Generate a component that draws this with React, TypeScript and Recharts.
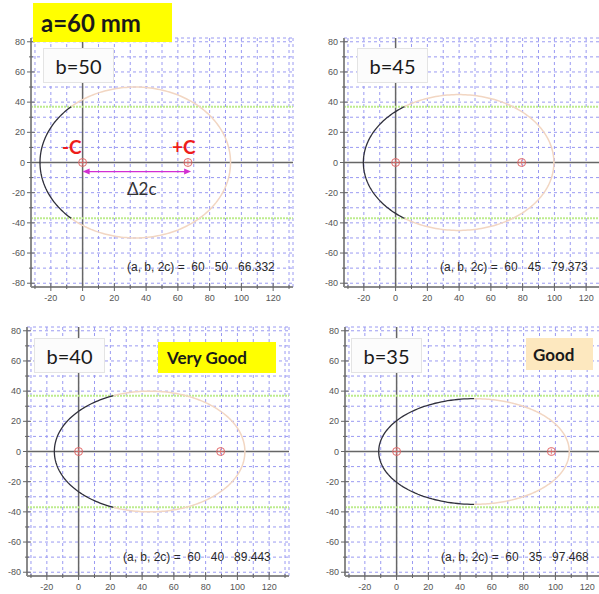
import React from 'react';
import { ComposedChart, Scatter, XAxis, YAxis, CartesianGrid, ReferenceLine } from 'recharts';

// ellipse parameters shown in the chart
const A = 60;
const B_VALUES = [50, 45, 40, 35];
const TWO_C = [66.332, 79.373, 89.443, 97.468];
const B_LABELS = ['b=50', 'b=45', 'b=40', 'b=35'];
const RATINGS = ['', '', 'Very Good', 'Good'];
const LIMIT_Y = 37;
const ARROW_Y = -6;

const X_TICKS = [-30, -20, -10, 0, 10, 20, 30, 40, 50, 60, 70, 80, 90, 100, 110, 120, 130];
const Y_TICKS = [-80, -70, -60, -50, -40, -30, -20, -10, 0, 10, 20, 30, 40, 50, 60, 70, 80];

// plot-area corners for the four panels
const PANEL_POS = [
  { left: 31, top: 38 },
  { left: 344, top: 38 },
  { left: 27, top: 327 },
  { left: 345, top: 327 },
];
const NOTE_POS = [
  { left: 127, top: 260 },
  { left: 440, top: 260 },
  { left: 123, top: 550 },
  { left: 441, top: 550 },
];
const BLABEL_POS = [
  { left: 43, top: 48 },
  { left: 357, top: 48 },
  { left: 34, top: 338 },
  { left: 351, top: 338 },
];

const PLOT_W = 262;
const PLOT_H = 249;
const Y_W = 26;
const M_TOP = 5;

const GRAY = '#8a8a8a';
const TICK_FONT = '"Liberation Sans", Arial, sans-serif';

// the curve is x = c + a*cos(t), y = b*sin(t); dark part = left side inside |y| <= 37
function ellipseParts(b: number, twoC: number) {
  const c = twoC / 2;
  const t0 = Math.asin(Math.min(1, LIMIT_Y / b));
  const dark: { x: number; y: number }[] = [];
  const light: { x: number; y: number }[] = [];
  const n = 90;
  for (let i = 0; i <= n; i++) {
    const t = Math.PI - t0 + (2 * t0 * i) / n;
    dark.push({ x: c + A * Math.cos(t), y: b * Math.sin(t) });
  }
  const span = Math.PI - t0;
  for (let i = 0; i <= 2 * n; i++) {
    const t = -span + (2 * span * i) / (2 * n);
    light.push({ x: c + A * Math.cos(t), y: b * Math.sin(t) });
  }
  return { dark, light };
}

const BottomTick = (p: any) => {
  const { x, y, payload } = p;
  const v = payload.value;
  const major = v % 20 === 0;
  return (
    <g>
      <line x1={x} x2={x} y1={y - (major ? 4 : 2)} y2={y + (major ? 4 : 2)} stroke="#666" />
      {major && (
        <text x={x} y={y + 14} textAnchor="middle" fontSize={9} fill="#555" fontFamily={TICK_FONT}>
          {v}
        </text>
      )}
    </g>
  );
};

const TopTick = (p: any) => {
  const { x, y, payload } = p;
  const major = payload.value % 20 === 0;
  return <line x1={x} x2={x} y1={y - (major ? 3 : 1)} y2={y + (major ? 5 : 3)} stroke="#666" />;
};

const LeftTick = (p: any) => {
  const { x, y, payload } = p;
  const v = payload.value;
  const major = v % 20 === 0;
  return (
    <g>
      <line x1={x - (major ? 4 : 2)} x2={x + (major ? 4 : 2)} y1={y} y2={y} stroke="#666" />
      {major && (
        <text x={x - 6} y={y + 3} textAnchor="end" fontSize={9} fill="#555" fontFamily={TICK_FONT}>
          {v}
        </text>
      )}
    </g>
  );
};

const RightTick = (p: any) => {
  const { x, y, payload } = p;
  const major = payload.value % 20 === 0;
  return <line x1={x - (major ? 5 : 3)} x2={x + (major ? 3 : 1)} y1={y} y2={y} stroke="#666" />;
};

const FocusMark = (p: any) => {
  const { cx, cy } = p;
  const col = '#e46a6a';
  return (
    <g>
      <circle cx={cx} cy={cy} r={4} fill="none" stroke={col} strokeWidth={1} />
      <line x1={cx - 3} x2={cx + 3} y1={cy} y2={cy} stroke={col} strokeWidth={0.8} />
      <line x1={cx} x2={cx} y1={cy - 3} y2={cy + 3} stroke={col} strokeWidth={0.8} />
    </g>
  );
};

const ArrowShape = (p: any) => {
  const { x1, y1, x2, y2 } = p;
  const col = '#d22ed2';
  return (
    <g>
      <line x1={x1 + 4} y1={y1} x2={x2 - 4} y2={y2} stroke={col} strokeWidth={1.2} />
      <polygon points={`${x1},${y1} ${x1 + 7},${y1 - 3} ${x1 + 7},${y1 + 3}`} fill={col} />
      <polygon points={`${x2},${y2} ${x2 - 7},${y2 - 3} ${x2 - 7},${y2 + 3}`} fill={col} />
    </g>
  );
};

const NoDot = () => <g />;

const Panel = ({ idx }: { idx: number }) => {
  const b = B_VALUES[idx];
  const twoC = TWO_C[idx];
  const { dark, light } = ellipseParts(b, twoC);
  const foci = [
    { x: 0, y: 0 },
    { x: twoC, y: 0 },
  ];
  const pos = PANEL_POS[idx];
  const frame = { stroke: GRAY, strokeWidth: 2 };

  return (
    <div style={{ position: 'absolute', left: pos.left - Y_W, top: pos.top - M_TOP }}>
      <ComposedChart width={Y_W + PLOT_W + 5} height={M_TOP + PLOT_H + 20} margin={{ top: M_TOP, right: 5, bottom: 0, left: 0 }}>
        <CartesianGrid stroke="#9a9af2" strokeDasharray="3 3" />
        <XAxis dataKey="x" type="number" domain={[-32.5, 132.5]} ticks={X_TICKS} interval={0} allowDataOverflow
          tickSize={0} tickMargin={0} tickLine={false} tick={<BottomTick />} axisLine={frame} height={20} />
        <XAxis xAxisId="t" orientation="top" type="number" domain={[-32.5, 132.5]} ticks={X_TICKS} interval={0} allowDataOverflow
          tickSize={0} tickMargin={0} tickLine={false} tick={<TopTick />} axisLine={frame} height={0} />
        <YAxis dataKey="y" type="number" domain={[-82.5, 82.5]} ticks={Y_TICKS} interval={0} allowDataOverflow
          tickSize={0} tickMargin={0} tickLine={false} tick={<LeftTick />} axisLine={frame} width={Y_W} />
        <YAxis yAxisId="r" orientation="right" type="number" domain={[-82.5, 82.5]} ticks={Y_TICKS} interval={0} allowDataOverflow
          tickSize={0} tickMargin={0} tickLine={false} tick={<RightTick />} axisLine={frame} width={0} />
        <ReferenceLine x={0} stroke="#666" strokeWidth={1.5} />
        <ReferenceLine y={0} stroke="#666" strokeWidth={1.5} />
        <ReferenceLine y={LIMIT_Y} stroke="#bdec8e" strokeWidth={2} strokeDasharray="2 1" />
        <ReferenceLine y={-LIMIT_Y} stroke="#bdec8e" strokeWidth={2} strokeDasharray="2 1" />
        <Scatter data={light} fill="none" line={{ stroke: '#f2d6c2', strokeWidth: 1.5 }} shape={NoDot} isAnimationActive={false} />
        <Scatter data={dark} fill="none" line={{ stroke: '#30303c', strokeWidth: 1.3 }} shape={NoDot} isAnimationActive={false} />
        <Scatter data={foci} shape={FocusMark} isAnimationActive={false} />
        {idx === 0 && (
          <ReferenceLine segment={[{ x: 0, y: ARROW_Y }, { x: twoC + 2, y: ARROW_Y }]} shape={ArrowShape} />
        )}
      </ComposedChart>
    </div>
  );
};

const LabelBox = ({ left, top, width, height, bg, border, children, fontSize, bold, pad }: any) => (
  <div
    style={{
      position: 'absolute', left, top, width, height, boxSizing: 'border-box',
      background: bg, border: border || 'none', display: 'flex', alignItems: 'center',
      justifyContent: pad == null ? 'center' : 'flex-start', paddingLeft: pad || 0,
      fontFamily: 'Lato, "Open Sans", sans-serif', fontSize, fontWeight: bold ? 700 : 400, color: '#1a1a1a',
    }}
  >
    {children}
  </div>
);

export default function App() {
  return (
    <div style={{ position: 'fixed', left: 0, top: 0, width: 599, height: 594, overflow: 'hidden', background: '#fff' }}>
      {[0, 1, 2, 3].map((i) => <Panel key={i} idx={i} />)}

      {NOTE_POS.map((p, i) => (
        <div key={'n' + i} style={{ position: 'absolute', left: p.left, top: p.top, fontFamily: TICK_FONT, fontSize: 12, color: '#2a2a2a', whiteSpace: 'pre' }}>
          {`(a, b, 2c) =  ${A}   ${B_VALUES[i]}   ${TWO_C[i].toFixed(3)}`}
        </div>
      ))}

      {BLABEL_POS.map((p, i) => (
        <LabelBox key={'b' + i} left={p.left} top={p.top} width={71} height={35} bg="#fcfcfc" border="1px solid #e4e4e4" fontSize={20}>
          {B_LABELS[i]}
        </LabelBox>
      ))}

      <LabelBox left={33} top={3} width={139} height={39} bg="#ffff00" fontSize={24} bold pad={8}>
        {`a=${A} mm`}
      </LabelBox>
      <LabelBox left={158} top={342} width={118} height={31} bg="#ffff00" fontSize={17} bold pad={9}>
        {RATINGS[2]}
      </LabelBox>
      <LabelBox left={526} top={338} width={67} height={32} bg="#fde8bf" fontSize={17} bold pad={7}>
        {RATINGS[3]}
      </LabelBox>

      <div style={{ position: 'absolute', left: 62, top: 135, color: '#ee1c1c', fontFamily: 'Lato, sans-serif', fontSize: 19, fontWeight: 700 }}>-C</div>
      <div style={{ position: 'absolute', left: 172, top: 135, color: '#ee1c1c', fontFamily: 'Lato, sans-serif', fontSize: 19, fontWeight: 700 }}>+C</div>
      <div style={{ position: 'absolute', left: 127, top: 178, color: '#333', fontFamily: 'Lato, sans-serif', fontSize: 17 }}>Δ2c</div>
    </div>
  );
}
